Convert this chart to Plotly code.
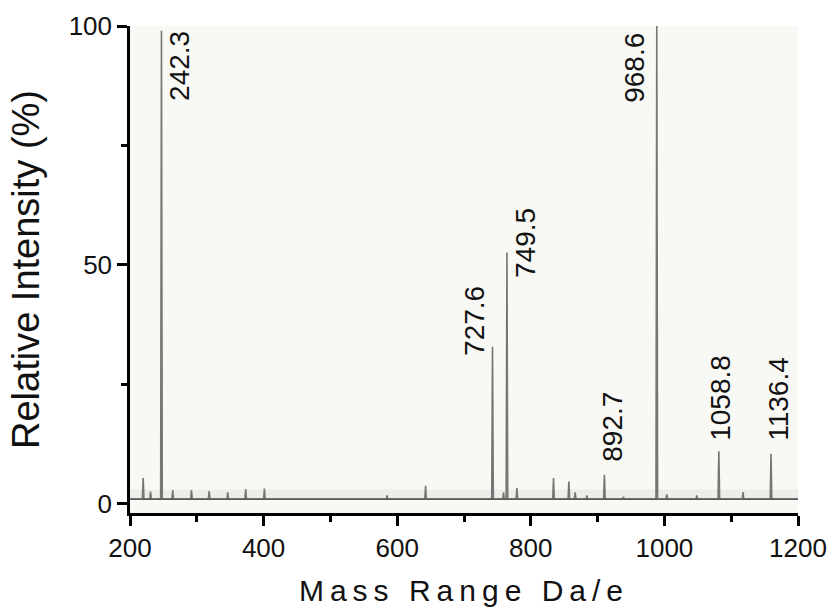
import plotly.graph_objects as go

# ---- data ----
# major labelled peaks: position on the mass axis (Da/e) and relative intensity (%)
major_mz = [247.1, 742.7, 764.3, 910.2, 988.6, 1081.5, 1159.6]
major_int = [99.0, 32.9, 52.6, 6.1, 100.0, 11.0, 10.5]
major_labels = ["242.3", "727.6", "749.5", "892.7", "968.6", "1058.8", "1136.4"]
# where each label sits (centre along mass axis, bottom end in intensity)
label_mz = [274.0, 715.3, 793.1, 922.2, 955.1, 1084.8, 1171.6]
label_int = [84.0, 30.6, 46.9, 8.5, 83.6, 12.8, 12.8]

# minor peaks
minor_mz = [219.7, 230.7, 264.0, 292.0, 318.5, 346.3, 373.2, 401.2, 584.7, 642.5,
            759.2, 779.2, 834.0, 857.0, 866.4, 883.9, 938.7, 1003.6, 1048.5, 1117.7]
minor_int = [5.4, 2.6, 2.9, 2.9, 2.7, 2.4, 3.1, 3.2, 1.8, 3.8,
             2.4, 3.3, 5.4, 4.7, 2.4, 1.8, 1.5, 2.0, 1.8, 2.5]

baseline = 1.0
noise_top = 3.0
x_ticks = [200, 400, 600, 800, 1000, 1200]
y_ticks = [0, 50, 100]

# ---- build spectrum polyline from the peak lists ----
peaks = sorted(list(zip(major_mz, major_int)) + list(zip(minor_mz, minor_int)))
half_w = 1.2
xs, ys = [200], [baseline]
for mz, h in peaks:
    xs += [mz - half_w, mz, mz + half_w]
    ys += [baseline, h, baseline]
xs.append(1200)
ys.append(baseline)

fig = go.Figure()
# faint noise band above baseline
fig.add_trace(go.Scatter(x=[200, 1200], y=[baseline, baseline], mode="lines",
                         line=dict(width=0), hoverinfo="skip", showlegend=False))
fig.add_trace(go.Scatter(x=[200, 1200], y=[noise_top, noise_top], mode="lines",
                         line=dict(width=0), fill="tonexty",
                         fillcolor="rgba(200,200,195,0.22)", hoverinfo="skip",
                         showlegend=False))
fig.add_trace(go.Scatter(x=xs, y=ys, mode="lines",
                         line=dict(color="#767676", width=1.6),
                         showlegend=False))
# darker baseline
fig.add_trace(go.Scatter(x=[200, 1200], y=[baseline, baseline], mode="lines",
                         line=dict(color="#505050", width=1.2),
                         hoverinfo="skip", showlegend=False))

for lx, ly, txt in zip(label_mz, label_int, major_labels):
    fig.add_annotation(x=lx, y=ly, text=txt, textangle=-90, showarrow=False,
                       xanchor="center", yanchor="bottom",
                       font=dict(family="Liberation Sans, Arial", size=28, color="#111111"))

axis_font = dict(family="Liberation Sans, Arial", size=26, color="#111111")
fig.update_layout(
    width=836, height=607,
    margin=dict(l=130, r=38, t=26, b=94),
    paper_bgcolor="white",
    plot_bgcolor="#f8f8f5",
    font=dict(family="Liberation Sans, Arial", color="#111111"),
    xaxis=dict(range=[200, 1200], tickvals=x_ticks, showgrid=False, zeroline=False,
               automargin=False,
               showline=True, linecolor="black", linewidth=2.5,
               ticks="outside", ticklen=10, tickwidth=2.5, tickcolor="black",
               tickfont=axis_font,
               minor=dict(dtick=100, ticks="outside", ticklen=6, tickwidth=2.5,
                          tickcolor="black", showgrid=False),
               title=dict(text='<span style="letter-spacing:6px">Mass Range Da/e</span>',
                          font=dict(family="Liberation Sans, Arial", size=30, color="#111111"),
                          standoff=22)),
    yaxis=dict(range=[-1.9, 100], tickvals=y_ticks, showgrid=False, zeroline=False,
               automargin=False,
               showline=True, linecolor="black", linewidth=2.5,
               ticks="outside", ticklen=10, tickwidth=2.5, tickcolor="black",
               tickfont=axis_font,
               minor=dict(dtick=25, ticks="outside", ticklen=6, tickwidth=2.5,
                          tickcolor="black", showgrid=False),
               title=dict(text="Relative Intensity (%)",
                          font=dict(family="Liberation Sans, Arial", size=38, color="#111111"),
                          standoff=18)),
)

fig.write_html("out.html")
